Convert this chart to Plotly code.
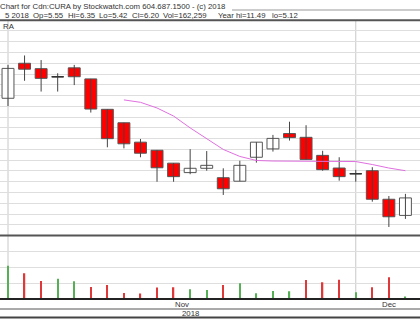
import plotly.graph_objects as go

# ---- data ----
idx = list(range(1, 26))
opens  = [9.90, 11.20, 11.00, 10.70, 11.03, 10.62, 9.49, 8.99, 8.27, 7.97, 7.49, 7.14, 7.30,
          6.95, 6.82, 7.71, 8.02, 8.59, 8.45, 7.78, 7.31, 7.10, 7.21, 6.15, 5.55]
highs  = [11.14, 11.49, 11.32, 10.83, 11.14, 10.62, 9.49, 8.99, 8.39, 7.97, 7.49, 8.01, 7.94,
          7.30, 7.58, 8.27, 8.54, 9.03, 8.90, 7.95, 7.71, 7.24, 7.34, 6.27, 6.35]
lows   = [9.61, 10.55, 10.15, 10.15, 10.39, 9.37, 8.08, 8.04, 7.71, 6.80, 6.80, 7.08, 7.21,
          6.31, 6.82, 7.51, 7.92, 8.33, 7.63, 7.21, 6.84, 6.80, 6.06, 5.12, 5.42]
closes = [11.01, 10.98, 10.64, 10.70, 10.70, 9.50, 8.40, 8.21, 7.86, 7.32, 6.99, 7.30, 7.41,
          6.54, 7.41, 8.27, 8.41, 8.44, 7.63, 7.25, 6.99, 7.10, 6.15, 5.50, 6.20]
volumes = [2.09e6, 1.63e6, 1.14e6, 1.28e6, 1.12e6, 0.76e6, 0.89e6, 0.38e6, 0.34e6, 0.72e6,
           0.74e6, 0.61e6, 0.57e6, 0.89e6, 0.99e6, 0.36e6, 0.51e6, 0.49e6, 1.20e6, 1.06e6,
           1.22e6, 0.42e6, 0.74e6, 1.37e6, 0.162259e6]
vol_up = [1, 0, 0, 1, 1, 0, 0, 0, 0, 0, 0, 1, 1, 0, 1, 1, 1, 1, 0, 0, 0, 1, 0, 0, 1]
ma_x = list(range(8, 26))
ma_y = [9.84, 9.75, 9.54, 9.24, 8.80, 8.41, 8.00, 7.74, 7.59, 7.57, 7.57, 7.56, 7.56,
        7.55, 7.55, 7.44, 7.31, 7.21]
month_starts = [1, 22]
month_labels = [("Nov", 11.5), ("Dec", 24.0)]
year_label = ("2018", 12.0)
title1 = "Chart for Cdn:CURA by Stockwatch.com 604.687.1500 - (c) 2018"
title2_fields = ["5 2018", "Op=5.55", "Hi=6.35", "Lo=5.42", "Cl=6.20", "Vol=162,259",
                 "Year hi=11.49", "lo=5.12"]
title2_pos = [3, 31, 65.5, 97, 129.5, 161, 216, 270]
symbol = "RA"

W, H = 420, 322
BW = 0.72
def py(p):
    return 1 - p / H

fig = go.Figure()

# wicks
wx, wy = [], []
for i, h, l in zip(idx, highs, lows):
    wx += [i, i, None]
    wy += [h, l, None]
fig.add_trace(go.Scatter(x=wx, y=wy, mode="lines", line=dict(color="#444", width=1),
                         hoverinfo="skip", showlegend=False))

# bodies
base = [min(o, c) for o, c in zip(opens, closes)]
hgt = [abs(c - o) for o, c in zip(opens, closes)]
fill = ["#ffffff" if c > o else "#ff0000" for o, c in zip(opens, closes)]
fig.add_trace(go.Bar(x=idx, y=hgt, base=base, width=BW,
                     marker=dict(color=fill, line=dict(color="#555", width=1)),
                     showlegend=False, hoverinfo="skip"))

# doji marks
dx, dy = [], []
for i, o, c in zip(idx, opens, closes):
    if abs(o - c) < 0.02:
        dx += [i - BW / 2, i + BW / 2, None]
        dy += [o, o, None]
fig.add_trace(go.Scatter(x=dx, y=dy, mode="lines", line=dict(color="#333", width=1.5),
                         hoverinfo="skip", showlegend=False))

# moving average
fig.add_trace(go.Scatter(x=ma_x, y=ma_y, mode="lines", line=dict(color="#e070e0", width=1),
                         hoverinfo="skip", showlegend=False))

# volume
fig.add_trace(go.Bar(x=idx, y=volumes, width=0.08, yaxis="y2",
                     marker=dict(color=["#55b055" if u else "#e03838" for u in vol_up], line=dict(width=0)),
                     showlegend=False, hoverinfo="skip"))

p_top, p_bot, v_bot = 20.2, 235.6, 299.0
fig.update_layout(
    width=W, height=H, margin=dict(l=0, r=0, t=0, b=0),
    paper_bgcolor="white", plot_bgcolor="white",
    barmode="overlay",
    xaxis=dict(range=[0.517, 25.88], showgrid=False, showticklabels=False, zeroline=False,
               showline=False, anchor="y2"),
    yaxis=dict(domain=[py(p_bot), py(p_top)], range=[4.8, 12.8], tick0=4.8, dtick=0.4,
               showgrid=True, gridcolor="#dedede", gridwidth=1, showticklabels=False,
               zeroline=False, showline=False),
    yaxis2=dict(domain=[py(v_bot), py(p_bot)], range=[0, 4e6], dtick=1e6, tick0=0,
                showgrid=True, gridcolor="#dedede", gridwidth=1, showticklabels=False,
                zeroline=False, showline=False),
)

shapes = []
for m in month_starts:
    shapes.append(dict(type="line", xref="x", yref="paper", x0=m, x1=m,
                       y0=py(v_bot), y1=py(p_top), line=dict(color="#c8c8c8", width=1), layer="below"))
def hline(ypx, color, width, x0=0, x1=1):
    shapes.append(dict(type="line", xref="paper", yref="paper", x0=x0, x1=x1,
                       y0=py(ypx), y1=py(ypx), line=dict(color=color, width=width)))
hline(p_top, "#555", 2)
hline(p_bot, "#555", 2)
hline(v_bot, "#222", 2)
hline(309.0, "#555", 1)
hline(317.5, "#444", 2)
hline(10.0, "#999", 1, x0=232 / W, x1=1)
fig.update_layout(shapes=shapes)

font = dict(family="Liberation Sans", size=7.8, color="#333")
ann = []
ann.append(dict(text=title1, xref="paper", yref="paper", x=-2 / W, y=py(6), xanchor="left",
                yanchor="middle", showarrow=False, font=font))
for t, xp in zip(title2_fields, title2_pos):
    ann.append(dict(text=t, xref="paper", yref="paper", x=xp / W, y=py(15.5), xanchor="left",
                    yanchor="middle", showarrow=False, font=font))
ann.append(dict(text=symbol, xref="paper", yref="paper", x=0.5 / W, y=py(27), xanchor="left",
                yanchor="middle", showarrow=False, font=font))
for lab, xv in month_labels:
    ann.append(dict(text=lab, xref="x", yref="paper", x=xv, y=py(304.3), xanchor="center",
                    yanchor="middle", showarrow=False, font=font))
ann.append(dict(text=year_label[0], xref="x", yref="paper", x=year_label[1], y=py(313.8),
                xanchor="center", yanchor="middle", showarrow=False, font=font))
fig.update_layout(annotations=ann)

fig.write_html("out.html")
